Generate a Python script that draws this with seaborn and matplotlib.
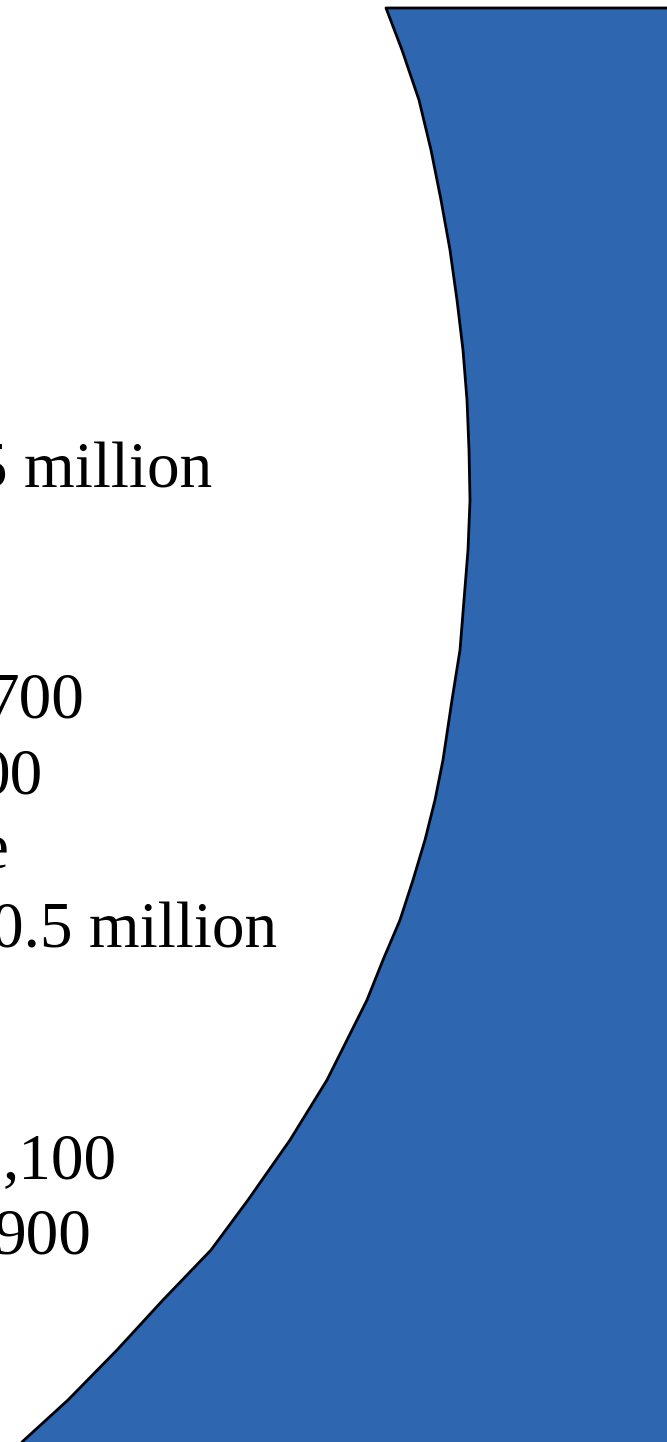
import numpy as np
import pandas as pd
import seaborn as sns
import matplotlib
matplotlib.use("Agg")
import matplotlib.pyplot as plt

# Edge of the blue shape (pixel units, y grows downward)
edge_y = [8, 50, 100, 150, 200, 250, 300, 350, 400, 450, 500, 550, 600, 650,
          700, 760, 800, 840, 880, 920, 960, 1000, 1040, 1080, 1140, 1200,
          1250, 1300, 1350, 1400, 1442]
edge_x = [386, 402, 419, 431, 441, 450, 457, 463, 467, 469, 470, 468, 464, 460,
          452, 443, 435, 425, 413, 400, 383, 367, 347, 327, 290, 248,
          211, 163, 117, 68, 22]

# top border of the shape
top_x = [667, 386]
top_y = [8, 8]

# Text fragments visible in the white area (left part cut off by the crop)
labels = ["5 million", "700", "00", "e", "0.5 million", ",100", "900"]
label_right = [212, 85, 43, 8, 277, 117, 92]
label_base = [487, 717, 793, 867, 948, 1178, 1253]

W, H = 667, 1442
blue = "#2e66b0"

sns.set_theme(style="white")
plt.rcParams["font.family"] = ["Liberation Serif", "DejaVu Serif"]

fig = plt.figure(figsize=(W / 100, H / 100), dpi=100)
ax = fig.add_axes([0, 0, 1, 1])

ax.fill_betweenx(edge_y, edge_x, W, color=blue, lw=0)

outline = pd.DataFrame({"x": top_x + edge_x, "y": top_y + edge_y})
sns.lineplot(data=outline, x="x", y="y", sort=False, estimator=None,
             color="black", lw=2, ax=ax)
ax.set_xlim(0, W)
ax.set_ylim(H, 0)
ax.axis("off")

for txt, xr, yb in zip(labels, label_right, label_base):
    ax.text(xr, yb, txt, ha="right", va="baseline", fontsize=47, color="black")

fig.savefig("out.png", dpi=100)
